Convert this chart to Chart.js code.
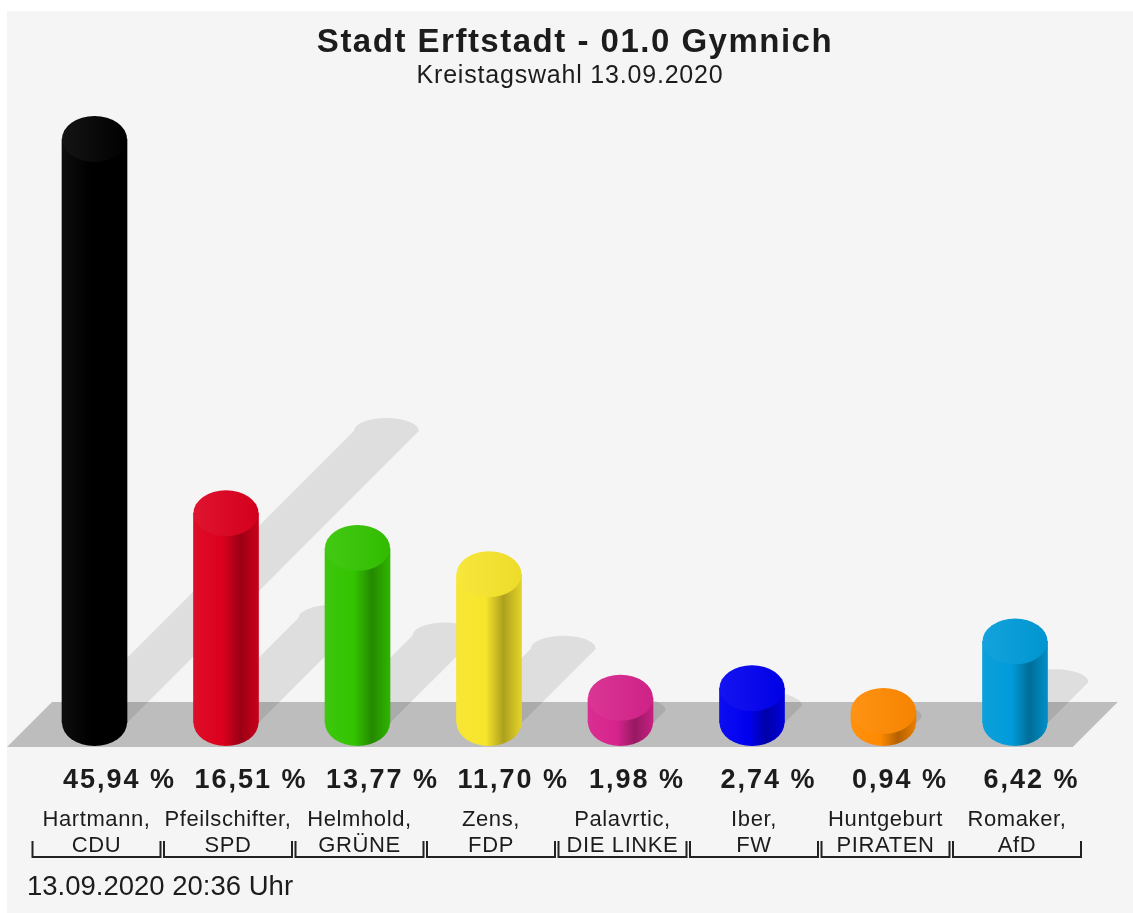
<!DOCTYPE html>
<html>
<head>
<meta charset="utf-8">
<title>Stadt Erftstadt - 01.0 Gymnich</title>
<script src="https://cdn.jsdelivr.net/npm/chart.js@4.4.1/dist/chart.umd.min.js"></script>
<style>
html,body{margin:0;padding:0;background:#fff;overflow:hidden}
#wrap{width:1133px;height:913px}
</style>
</head>
<body>
<div id="wrap"><canvas id="chart" width="1133" height="913"></canvas></div>
<script>
// data
const TITLE="Stadt Erftstadt - 01.0 Gymnich";
const SUBTITLE="Kreistagswahl 13.09.2020";
const STAMP="13.09.2020 20:36 Uhr";
const candidates=["Hartmann,","Pfeilschifter,","Helmhold,","Zens,","Palavrtic,","Iber,","Huntgeburt","Romaker,"];
const parties=["CDU","SPD","GRÜNE","FDP","DIE LINKE","FW","PIRATEN","AfD"];
const shares=[45.94,16.51,13.77,11.70,1.98,2.74,0.94,6.42];
const colors=["#000000","#dc001d","#33c400","#f7e52b","#d7238c","#0000f0","#ff8a00","#009bd9"];

const BAR_W=65, RY=23, FONT='"Liberation Sans", Arial, sans-serif';

function mix(hex,t,to){ // t=0 -> hex, t=1 -> to
  const a=parseInt(hex.slice(1),16), b=parseInt(to.slice(1),16);
  const ch=(n,s)=>(n>>s)&255;
  const m=s=>Math.round(ch(a,s)+(ch(b,s)-ch(a,s))*t);
  return `rgb(${m(16)},${m(8)},${m(0)})`;
}
function sideGrad(ctx,x,c){
  const g=ctx.createLinearGradient(x-BAR_W/2,0,x+BAR_W/2,0);
  g.addColorStop(0,mix(c,0.05,"#ffffff"));
  g.addColorStop(0.45,c);
  g.addColorStop(0.72,mix(c,0.3,"#000000"));
  g.addColorStop(1,mix(c,0.08,"#000000"));
  return g;
}
function sideFill(c){
  const chart=c.chart, i=c.dataIndex;
  if(i==null) return "#000";
  if(!chart.chartArea||!chart.scales.x) return colors[i];
  return sideGrad(chart.ctx,chart.scales.x.getPixelForValue(i),colors[i]);
}
const fmt=v=>v.toFixed(2).replace(".",",")+" %";

const scene={
  id:"scene",
  beforeDraw(chart){
    const ctx=chart.ctx, W=chart.width, H=chart.height;
    const y0=chart.scales.y.getPixelForValue(0), a=chart.chartArea;
    ctx.save();
    ctx.fillStyle="#ffffff"; ctx.fillRect(0,0,W,H);
    ctx.fillStyle="#f5f5f5"; ctx.fillRect(7,11,W-7,H-11);
    // floor
    ctx.fillStyle="#bdbdbd";
    ctx.beginPath();
    ctx.moveTo(7,y0+24); ctx.lineTo(52,y0-21); ctx.lineTo(a.right+37,y0-21); ctx.lineTo(a.right-8,y0+24);
    ctx.closePath(); ctx.fill();
    // shadows, one path so overlaps are not darkened twice
    const els=chart.getDatasetMeta(0).data;
    ctx.beginPath();
    els.forEach(el=>{
      const h=el.base-el.y, s=h*0.5, xl=el.x-el.width/2, xr=el.x+el.width/2;
      ctx.moveTo(xl,el.base); ctx.lineTo(xr,el.base); ctx.lineTo(xr+s,el.base-s);
      ctx.ellipse(el.x+s,el.base-s,el.width/2,13,0,0,Math.PI,true);
      ctx.closePath();
    });
    ctx.fillStyle="rgba(0,0,0,0.095)";
    ctx.fill();
    ctx.restore();
  },
  afterDatasetsDraw(chart){
    const ctx=chart.ctx;
    ctx.save();
    chart.getDatasetMeta(0).data.forEach((el,i)=>{
      const rx=el.width/2;
      ctx.fillStyle=sideGrad(ctx,el.x,colors[i]);
      ctx.beginPath(); ctx.ellipse(el.x,el.base,rx,RY,0,0,Math.PI); ctx.closePath(); ctx.fill();
      const tg=ctx.createLinearGradient(el.x-rx,0,el.x+rx,0);
      tg.addColorStop(0,mix(colors[i],0.08,"#ffffff"));
      tg.addColorStop(1,mix(colors[i],0.04,"#000000"));
      ctx.fillStyle=tg;
      ctx.beginPath(); ctx.ellipse(el.x,el.y,rx,RY,0,0,Math.PI*2); ctx.fill();
    });
    ctx.restore();
  },
  afterDraw(chart){
    const ctx=chart.ctx, els=chart.getDatasetMeta(0).data;
    ctx.save();
    ctx.fillStyle="#1c1c1c"; ctx.textBaseline="alphabetic";
    ctx.textAlign="center";
    ctx.font="bold 33px "+FONT; ctx.letterSpacing="1.5px";
    ctx.fillText(TITLE,575,52);
    ctx.font="25px "+FONT; ctx.letterSpacing="0.8px";
    ctx.fillText(SUBTITLE,570,83);
    els.forEach((el,i)=>{
      ctx.textAlign="left";
      ctx.font="bold 27px "+FONT; ctx.letterSpacing="2px";
      ctx.fillText(fmt(shares[i]),el.x-el.width/2+1,788);
      ctx.textAlign="center";
      ctx.font="22px "+FONT; ctx.letterSpacing="0.6px";
      ctx.fillText(candidates[i],el.x+2,826);
      ctx.fillText(parties[i],el.x+2,852);
      ctx.strokeStyle="#222"; ctx.lineWidth=2;
      ctx.beginPath();
      ctx.moveTo(el.x-62,841); ctx.lineTo(el.x-62,857); ctx.lineTo(el.x+66,857); ctx.lineTo(el.x+66,841);
      ctx.stroke();
    });
    ctx.textAlign="left"; ctx.letterSpacing="0px";
    ctx.font="27.5px "+FONT;
    ctx.fillText(STAMP,27,895);
    ctx.restore();
  }
};

new Chart(document.getElementById("chart"),{
  type:"bar",
  data:{labels:parties,datasets:[{data:shares,backgroundColor:sideFill,borderWidth:0,barThickness:BAR_W}]},
  options:{
    responsive:false,animation:false,
    layout:{padding:{left:28.75,right:52.25,top:87.5,bottom:190}},
    scales:{x:{display:false},y:{display:false,min:0,max:50}},
    plugins:{legend:{display:false},tooltip:{enabled:false}}
  },
  plugins:[scene]
});
</script>
</body>
</html>
